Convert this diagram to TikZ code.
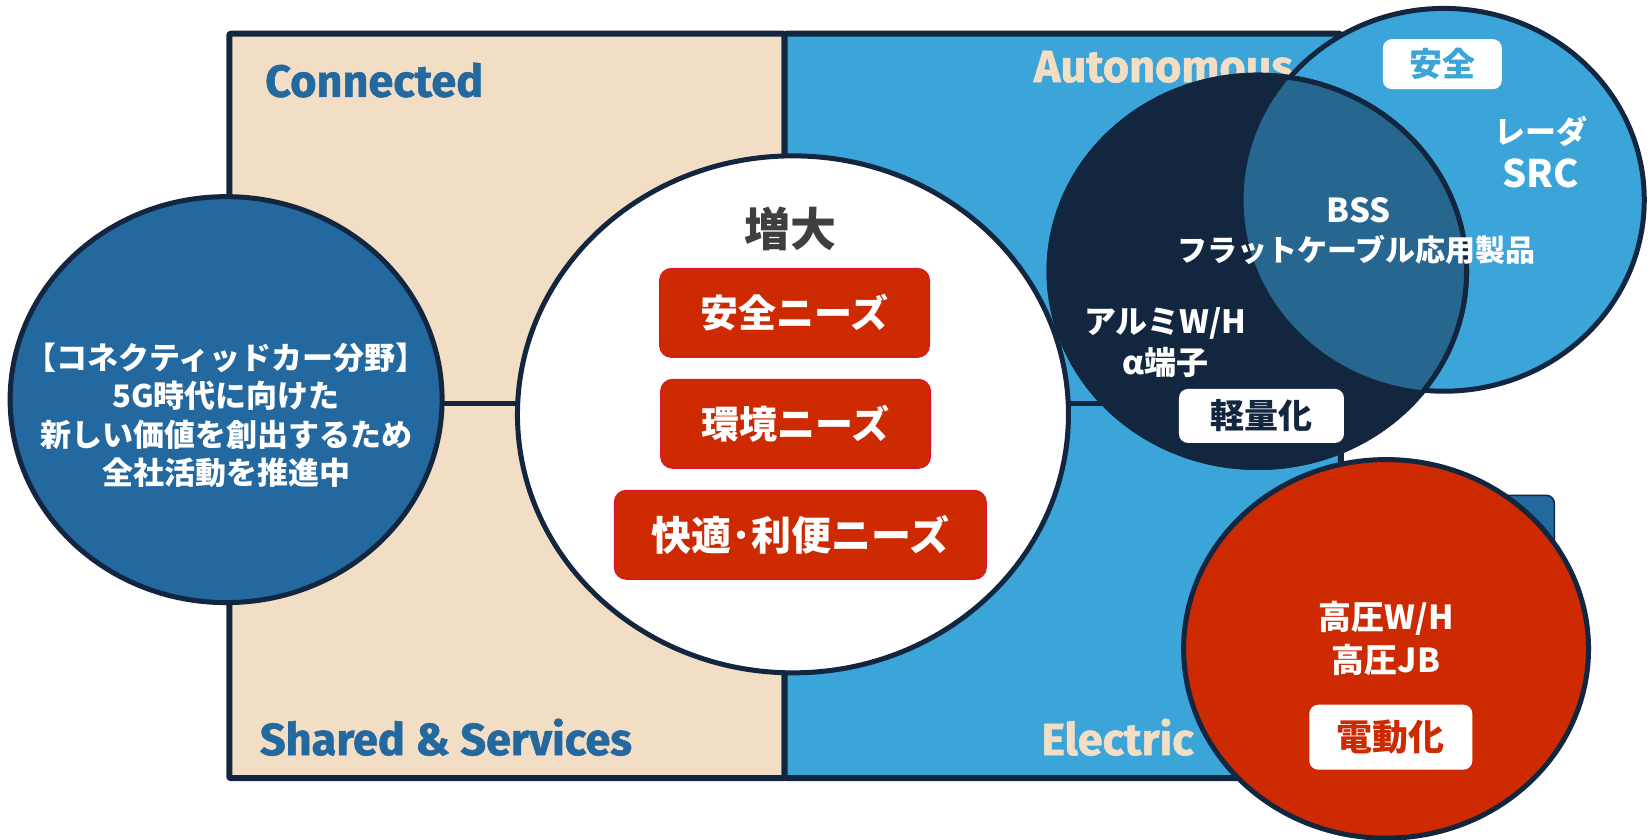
\documentclass[tikz,border=0pt]{standalone}
\usepackage{fontspec}
\setmainfont{Noto Sans CJK JP}
\newfontfamily\lat{Fira Sans}[BoldFeatures={FakeBold=1.2}]
\usetikzlibrary{shapes.geometric}
\definecolor{beige}{HTML}{F2DEC4}
\definecolor{lblue}{HTML}{3BA4D9}
\definecolor{mblue}{HTML}{2468A0}
\definecolor{navy}{HTML}{12263F}
\definecolor{ovl}{HTML}{27668E}
\definecolor{nred}{HTML}{CD2A02}
\definecolor{crim}{HTML}{E0103A}
\definecolor{dgray}{HTML}{3F3F3F}
\tikzset{
  frameline/.style={draw=navy,line width=6pt},
  ring/.style={draw=navy,line width=5pt},
  quadlabel/.style={anchor=base west,inner sep=0pt,font=\lat\bfseries\fontsize{45pt}{52pt}\selectfont},
  needbox/.style={fill=nred,draw=crim,line width=1pt,rounded corners=12pt,minimum height=89pt,text=white,font=\bfseries\fontsize{38pt}{44pt}\selectfont,inner sep=0pt},
  tagbox/.style={fill=white,rounded corners=9pt,inner sep=0pt,font=\bfseries\fontsize{33pt}{40pt}\selectfont},
  wtext/.style={text=white,align=center,inner sep=0pt,font=\bfseries\fontsize{30pt}{41pt}\selectfont},
}
\begin{document}
\begin{tikzpicture}[x=1.0517pt,y=1.0517pt]
\useasboundingbox (0,0) rectangle (1568,-798);
% frame quadrants
\path[frameline,fill=beige,rounded corners=2pt] (218,-32) rectangle (746,-740);
\path[frameline,fill=lblue,rounded corners=2pt] (746,-32) rectangle (1275,-740);
\coordinate (ml) at (218,-384);
\coordinate (mr) at (1275,-384);
\draw[navy,line width=5pt] (ml) -- (mr);
% quadrant labels
\node[quadlabel,text=mblue] (lconn) at (252,-92) {Connected};
\node[quadlabel,text=beige] (lauto) at (983,-78) {Autonomous};
\node[quadlabel,text=mblue] (lshared) at (247,-718) {Shared \& Services};
\node[quadlabel,text=beige] (lelec) at (990,-718) {Electric};
% dark rectangle behind the red circle
\path[fill=mblue,draw=navy,line width=1.5pt,rounded corners=8pt] (1290,-471) rectangle (1478,-610);
% left circle
\node[ellipse,ring,fill=mblue,minimum width=432pt,minimum height=406pt,inner sep=0pt] (lc) at (215,-380) {};
\node[wtext,font=\bfseries\fontsize{31pt}{38.5pt}\selectfont] (lctext) at (215,-395)
  {【コネクティッドカー分野】\\5G時代に向けた\\新しい価値を創出するため\\全社活動を推進中};
% center circle
\node[ellipse,ring,fill=white,minimum width=551pt,minimum height=517pt,inner sep=0pt] (cc) at (754,-394) {};
\node[inner sep=0pt,text=dgray,font=\bfseries\fontsize{46pt}{50pt}\selectfont] (zodai) at (752,-218) {増大};
\node[needbox,minimum width=270pt] (n1) at (755.5,-297.5) {安全ニーズ};
\node[needbox,minimum width=270pt] (n2) at (756.5,-403) {環境ニーズ};
\node[needbox,minimum width=372pt,font=\bfseries\fontsize{40pt}{44pt}\selectfont] (n3) at (761,-508.5) {快適･利便ニーズ};
% light blue circle and dark ellipse
\path[ring,fill=lblue] (1373,-190) ellipse [x radius=190.5,y radius=182];
\path[ring,fill=navy] (1196,-258) ellipse [x radius=198.5,y radius=186.5];
\begin{scope}
  \clip (1373,-190) ellipse [x radius=190.5,y radius=182];
  \fill[ovl] (1196,-258) ellipse [x radius=198.5,y radius=186.5];
\end{scope}
\draw[navy,line width=5pt] (1196,-258) ellipse [x radius=198.5,y radius=186.5];
\node[tagbox,minimum width=119pt,minimum height=50pt,text=lblue] (anzen) at (1371.5,-61) {安全};
\node[wtext,font=\bfseries\fontsize{31pt}{40pt}\selectfont] (radar) at (1465,-125) {レーダ};
\node[wtext,font=\bfseries\fontsize{38pt}{40pt}\selectfont] (src) at (1465,-165) {SRC};
\node[wtext,font=\bfseries\fontsize{33pt}{40pt}\selectfont] (bss) at (1292,-200) {BSS};
\node[wtext,font=\bfseries\fontsize{30pt}{40pt}\selectfont] (flat) at (1290,-238) {フラットケーブル応用製品};
\node[wtext,font=\bfseries\fontsize{32pt}{41pt}\selectfont] (alumi) at (1108,-326) {アルミW/H\\α端子};
\node[tagbox,minimum width=165pt,minimum height=54pt,text=navy,font=\bfseries\fontsize{34pt}{40pt}\selectfont] (keiryo) at (1199.5,-395.5) {軽量化};
% red circle
\path[ring,fill=nred] (1318,-617) ellipse [x radius=192.5,y radius=180];
\node[wtext,font=\bfseries\fontsize{33pt}{43pt}\selectfont] (koatsu) at (1318,-607) {高圧W/H\\高圧JB};
\node[tagbox,minimum width=163pt,minimum height=65pt,text=nred,font=\bfseries\fontsize{36pt}{40pt}\selectfont] (dendo) at (1322.5,-701) {電動化};
\end{tikzpicture}
\end{document}
